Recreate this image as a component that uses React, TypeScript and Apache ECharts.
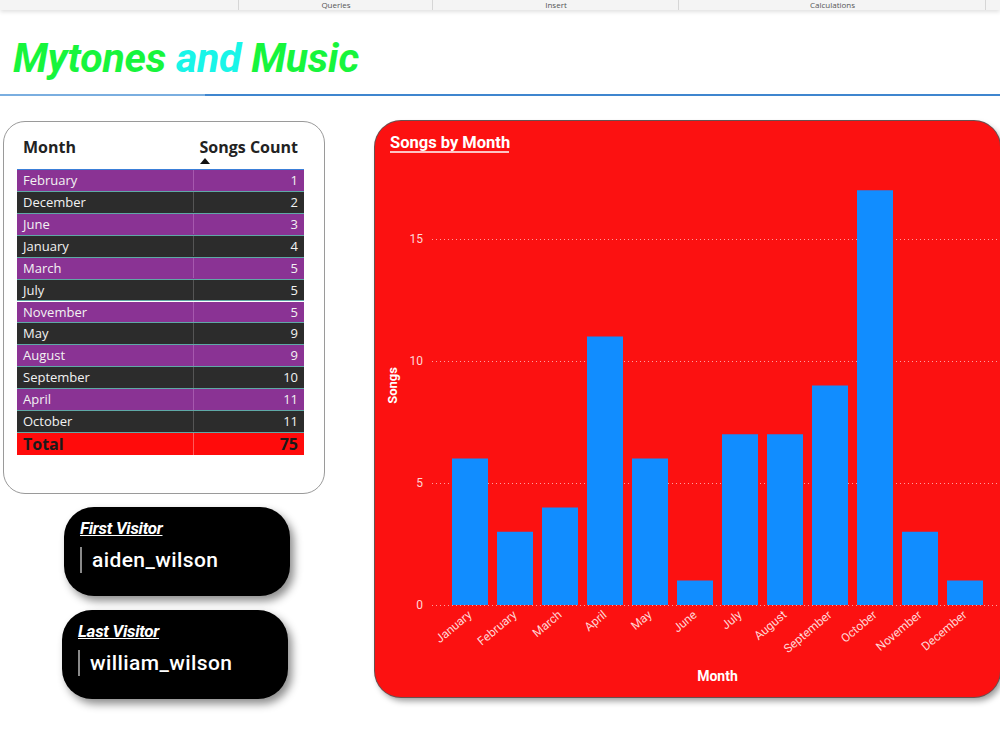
import React, { useEffect, useRef } from "react";
import * as echarts from "echarts";

const chartMonths = ["January", "February", "March", "April", "May", "June", "July", "August", "September", "October", "November", "December"];
const chartSongs = [6, 3, 4, 11, 6, 1, 7, 7, 9, 17, 3, 1];
const yTicks = { min: 0, max: 18, interval: 5 };

const tableMonths = ["February", "December", "June", "January", "March", "July", "November", "May", "August", "September", "April", "October"];
const tableCounts = [1, 2, 3, 4, 5, 5, 5, 9, 9, 10, 11, 11];
const tableTotal = 75;

const visitors = [
  { label: "First Visitor", name: "aiden_wilson" },
  { label: "Last Visitor", name: "william_wilson" },
];

const toolbarItems = [
  { text: "Queries", x: 238, w: 194 },
  { text: "Insert", x: 432, w: 246 },
  { text: "Calculations", x: 678, w: 307 },
];

const DIN = "Roboto, 'Noto Sans', sans-serif";
const SEGOE = "'Open Sans', 'Noto Sans', sans-serif";

function Chart() {
  const ref = useRef<HTMLDivElement>(null);
  useEffect(() => {
    if (!ref.current) return;
    const chart = echarts.init(ref.current, undefined, { renderer: "svg" });
    const labelColor = "#ffd6d6";
    chart.setOption({
      animation: false,
      backgroundColor: "transparent",
      title: {
        text: "Songs by Month",
        left: 15,
        top: 13,
        padding: 0,
        textStyle: { color: "#ffffff", fontSize: 16.5, fontWeight: "bold", fontFamily: DIN },
      },
      graphic: [
        {
          type: "line",
          shape: { x1: 15, y1: 31, x2: 134, y2: 31 },
          style: { stroke: "#ffffff", lineWidth: 1.5 },
        },
      ],
      grid: [
        { left: 72.5, width: 540, top: 44.8, bottom: 92 },
        { left: 57, right: 0, top: 44.8, bottom: 92 },
      ],
      xAxis: [
        {
          type: "category",
          gridIndex: 0,
          data: chartMonths,
          axisLine: { show: false },
          axisTick: { show: false },
          axisLabel: {
            rotate: 40,
            color: labelColor,
            fontSize: 12,
            fontFamily: DIN,
            margin: 8,
          },
          name: "Month",
          nameLocation: "middle",
          nameGap: 64,
          nameTextStyle: { color: "#ffffff", fontSize: 14, fontWeight: "bold", fontFamily: DIN },
        },
        { type: "value", gridIndex: 1, show: false, min: 0, max: 1 },
      ],
      yAxis: [
        {
          type: "value",
          gridIndex: 0,
          min: yTicks.min,
          max: yTicks.max,
          interval: yTicks.interval,
          show: false,
          splitLine: { show: false },
        },
        {
          type: "value",
          gridIndex: 1,
          min: yTicks.min,
          max: yTicks.max,
          interval: yTicks.interval,
          axisLine: { show: false },
          axisTick: { show: false },
          axisLabel: {
            color: labelColor,
            fontSize: 12,
            fontFamily: DIN,
            margin: 9,
            showMaxLabel: false,
          },
          splitLine: {
            show: true,
            showMaxLine: false,
            lineStyle: { color: "#ffa0a0", type: [1, 3], width: 1 },
          },
          name: "Songs",
          nameLocation: "middle",
          nameGap: 27,
          nameTextStyle: { color: "#ffffff", fontSize: 13, fontWeight: "bold", fontFamily: DIN },
        },
      ],
      series: [
        {
          type: "bar",
          xAxisIndex: 0,
          yAxisIndex: 0,
          data: chartSongs,
          barWidth: 36,
          itemStyle: { color: "#118dff" },
        },
      ],
    });
    return () => chart.dispose();
  }, []);
  return <div ref={ref} style={{ width: 625, height: 576 }} />;
}

export default function App() {
  const rowH = 263 / 12;
  return (
    <div style={{ position: "absolute", left: 0, top: 0, width: 1000, height: 750, background: "#ffffff", overflow: "hidden" }}>
      {/* toolbar strip */}
      <div style={{ position: "absolute", left: 0, top: 0, width: 1000, height: 10, background: "#f4f4f4", boxShadow: "0 2px 4px rgba(0,0,0,0.12)", overflow: "hidden" }}>
        {toolbarItems.map((t) => (
          <div key={t.text} style={{ position: "absolute", left: t.x, top: 0, width: t.w, height: 10, borderLeft: "1px solid #d6d6d6", textAlign: "center", fontFamily: SEGOE, fontSize: 8, lineHeight: "10px", color: "#555" }}>
            {t.text}
          </div>
        ))}
        <div style={{ position: "absolute", left: 985, top: 0, width: 1, height: 10, background: "#d6d6d6" }} />
      </div>

      {/* title */}
      <div style={{ position: "absolute", left: 13, top: 35, fontFamily: DIN, fontStyle: "italic", fontWeight: "bold", fontSize: 41, lineHeight: "46px", whiteSpace: "nowrap", letterSpacing: -0.2 }}>
        <span style={{ color: "#17f53c" }}>Mytones </span>
        <span style={{ color: "#19f5e8" }}>and </span>
        <span style={{ color: "#17f53c" }}>Music</span>
      </div>
      <div style={{ position: "absolute", left: 0, top: 94, width: 205, height: 2, background: "#7aaee0" }} />
      <div style={{ position: "absolute", left: 205, top: 94, width: 795, height: 2, background: "#3f86cf" }} />

      {/* table card */}
      <div style={{ position: "absolute", left: 3, top: 121, width: 320, height: 371, border: "1.5px solid #9a9a9a", borderRadius: 22, background: "#fff" }} />
      <div style={{ position: "absolute", left: 23, top: 136, fontFamily: SEGOE, fontWeight: "bold", fontSize: 16, color: "#222" }}>Month</div>
      <div style={{ position: "absolute", left: 190, width: 108, top: 136, textAlign: "right", fontFamily: SEGOE, fontWeight: "bold", fontSize: 16, color: "#222", whiteSpace: "nowrap" }}>Songs Count</div>
      <div style={{ position: "absolute", left: 200, top: 158, width: 0, height: 0, borderLeft: "5px solid transparent", borderRight: "5px solid transparent", borderBottom: "6px solid #111" }} />
      <div style={{ position: "absolute", left: 17, top: 169, width: 287, height: 1.5, background: "#3b7fd8" }} />
      {tableMonths.map((m, i) => {
        const purple = i % 2 === 0;
        return (
          <div key={m} style={{ position: "absolute", left: 17, top: 170 + i * rowH, width: 287, height: rowH, background: purple ? "#8a3394" : "#2c2c2c", borderBottom: "1.5px solid #5fa9a6", boxSizing: "border-box", fontFamily: SEGOE, fontSize: 13, color: "#f2f2f2" }}>
            <div style={{ position: "absolute", left: 6, top: 0, lineHeight: `${rowH - 1}px` }}>{m}</div>
            <div style={{ position: "absolute", left: 176, top: 0, width: 1, height: rowH - 1.5, background: purple ? "#a658ae" : "#555" }} />
            <div style={{ position: "absolute", right: 6, top: 0, lineHeight: `${rowH - 1}px` }}>{tableCounts[i]}</div>
          </div>
        );
      })}
      <div style={{ position: "absolute", left: 17, top: 433, width: 287, height: 22, background: "#ff0b0b", fontFamily: SEGOE, fontSize: 16, fontWeight: "bold", color: "#1a1a1a" }}>
        <div style={{ position: "absolute", left: 6, top: 0, lineHeight: "22px" }}>Total</div>
        <div style={{ position: "absolute", left: 176, top: 0, width: 1, height: 22, background: "#ff5a5a" }} />
        <div style={{ position: "absolute", right: 6, top: 0, lineHeight: "22px" }}>{tableTotal}</div>
      </div>

      {/* visitor cards */}
      {visitors.map((v, i) => (
        <div key={v.label} style={{ position: "absolute", left: i === 0 ? 64 : 62, top: i === 0 ? 507 : 610, width: 226, height: 89, borderRadius: 30, background: "#000", boxShadow: "4px 5px 8px rgba(0,0,0,0.45)" }}>
          <div style={{ position: "absolute", left: 16, top: 11, fontFamily: DIN, fontStyle: "italic", fontWeight: "bold", fontSize: 17, color: "#fff", textDecoration: "underline", whiteSpace: "nowrap", letterSpacing: -0.3 }}>{v.label}</div>
          <div style={{ position: "absolute", left: 16, top: 40, width: 2, height: 26, background: "#8a8a8a" }} />
          <div style={{ position: "absolute", left: 28, top: 40, fontFamily: DIN, fontWeight: 500, fontSize: 21, lineHeight: "26px", color: "#fff", whiteSpace: "nowrap", letterSpacing: 0.4 }}>{v.name}</div>
        </div>
      ))}

      {/* chart card */}
      <div style={{ position: "absolute", left: 375, top: 121, width: 625, height: 576, borderRadius: 26, background: "#fc1111", boxShadow: "0 0 0 1px #6a5050, 3px 4px 6px rgba(0,0,0,0.4)", overflow: "hidden" }}>
        <Chart />
      </div>
    </div>
  );
}
